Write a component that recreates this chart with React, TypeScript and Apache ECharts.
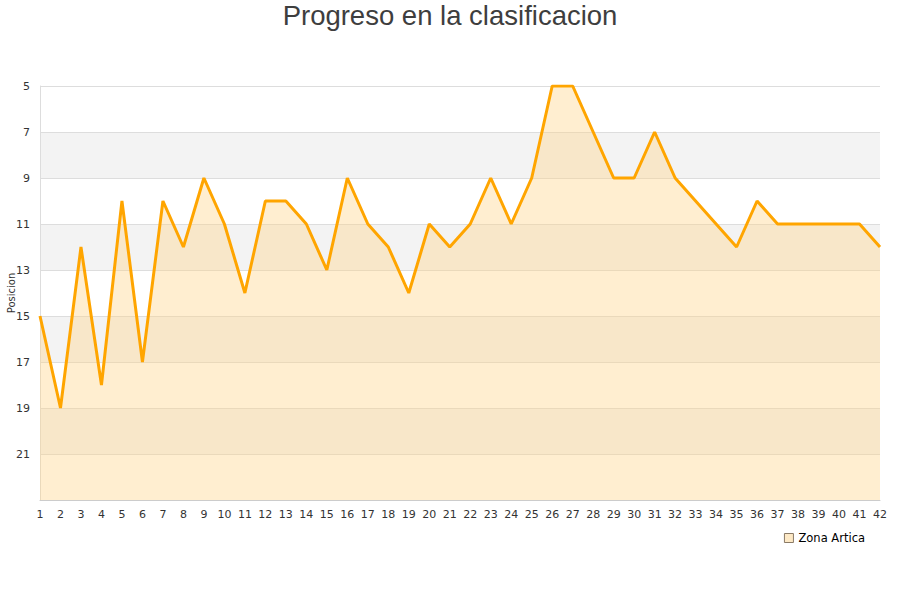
import React, { useEffect, useRef } from "react";
import * as echarts from "echarts";

const jornadas: string[] = Array.from({ length: 42 }, (_, i) => String(i + 1));
const posiciones: number[] = [
  15, 19, 12, 18, 10, 17, 10, 12, 9, 11, 14, 10, 10, 11, 13, 9, 11, 12, 14, 11, 12,
  11, 9, 11, 9, 5, 5, 7, 9, 9, 7, 9, 10, 11, 12, 10, 11, 11, 11, 11, 11, 12,
];
const serieNombre = "Zona Artica";
const titulo = "Progreso en la clasificacion";
const ejeY = "Posicion";

export default function App() {
  const ref = useRef<HTMLDivElement>(null);
  useEffect(() => {
    if (!ref.current) return;
    const chart = echarts.init(ref.current, null, { renderer: "svg" });
    chart.setOption({
      animation: false,
      title: {
        text: titulo,
        left: "center",
        top: 1,
        padding: 0,
        textStyle: { fontFamily: "Liberation Sans", fontSize: 27.5, fontWeight: "normal", color: "#3e3e3e" },
      },
      legend: {
        right: 30,
        top: 527,
        icon: "rect",
        itemWidth: 9,
        itemHeight: 9,
        itemGap: 10,
        textStyle: { fontFamily: "DejaVu Sans", fontSize: 11.5, color: "#000" },
        data: [
          {
            name: serieNombre,
            itemStyle: { color: "#fde9c6", borderColor: "#8a7a66", borderWidth: 1 },
          },
        ],
      },
      grid: { left: 40, right: 20, top: 86, bottom: 100, containLabel: false, outerBoundsMode: "none" },
      xAxis: {
        type: "category",
        data: jornadas,
        boundaryGap: false,
        axisLine: { show: true, lineStyle: { color: "#ccc" } },
        axisTick: { show: false },
        axisLabel: { fontFamily: "DejaVu Sans", fontSize: 11, color: "#333", margin: 9, interval: 0 },
        splitLine: { show: false },
      },
      yAxis: {
        type: "value",
        inverse: true,
        min: 5,
        max: 23,
        interval: 2,
        name: ejeY,
        nameLocation: "middle",
        nameGap: 24,
        nameMoveOverlap: false,
        nameRotate: 90,
        nameTextStyle: { fontFamily: "DejaVu Sans", fontSize: 10, color: "#333" },
        axisLine: { show: true, lineStyle: { color: "#ddd" } },
        axisTick: { show: false },
        axisLabel: {
          fontFamily: "DejaVu Sans",
          fontSize: 11,
          color: "#333",
          margin: 10,
          formatter: (v: number) => (v === 23 ? "" : String(v)),
        },
        splitLine: { show: true, lineStyle: { color: "#ddd" } },
        splitArea: { show: true, areaStyle: { color: ["#ffffff", "#f3f3f3"] } },
      },
      series: [
        {
          name: serieNombre,
          type: "line",
          data: posiciones,
          symbol: "none",
          lineStyle: { color: "#ffa500", width: 3 },
          itemStyle: { color: "#ffa500" },
          areaStyle: { color: "#ffd58a", opacity: 0.4, origin: "end" },
        },
      ],
    });
    return () => chart.dispose();
  }, []);
  return (
    <div
      ref={ref}
      style={{ position: "absolute", left: 0, top: 0, width: 900, height: 600 }}
    />
  );
}
